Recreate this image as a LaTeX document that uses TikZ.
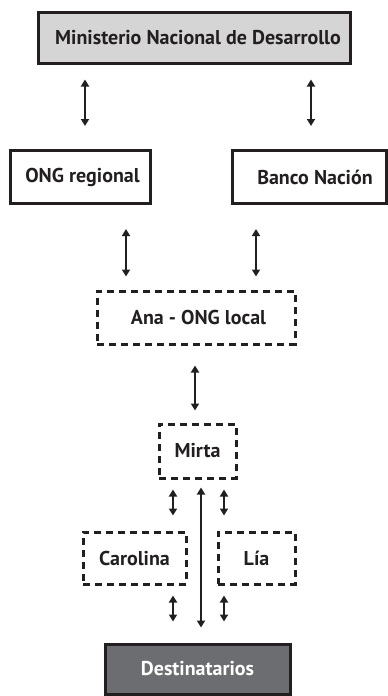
\documentclass[tikz,border=0pt]{standalone}
\usepackage{fontspec}
\setmainfont{PT Sans}
\usetikzlibrary{arrows.meta}
\definecolor{ink}{HTML}{231F20}
\definecolor{lightfill}{HTML}{D5D5D6}
\definecolor{darkfill}{HTML}{6C6D70}
\tikzset{
  box/.style={draw=ink, line width=3pt, inner sep=0pt, font=\fontsize{20}{24}\selectfont\bfseries, text=ink},
  dbox/.style={box, dash pattern=on 7pt off 5pt},
  arr/.style={draw=ink, line width=2pt, {Triangle[length=7pt,width=8pt]}-{Triangle[length=7pt,width=8pt]}},
}
\begin{document}
\begin{tikzpicture}[x=1pt,y=-1pt]
\useasboundingbox (0,0) rectangle (388,696);
\node[box, fill=lightfill, minimum width=312pt, minimum height=51pt] (min) at (194,37.5) {\hspace*{8pt}Ministerio Nacional de Desarrollo};
\node[box, minimum width=140pt, minimum height=53pt] (ong) at (80,177) {\hspace*{5pt}ONG regional};
\node[box, minimum width=154pt, minimum height=53pt] (banco) at (309,177) {\hspace*{12pt}Banco Nación};
\node[dbox, minimum width=198pt, minimum height=53pt] (ana) at (196,317.5) {\hspace*{5pt}Ana - ONG local};
\node[dbox, minimum width=77pt, minimum height=54pt] (mirta) at (197.5,451) {Mirta};
\node[dbox, minimum width=103pt, minimum height=52pt] (carolina) at (134.5,558) {Carolina};
\node[dbox, minimum width=77pt, minimum height=52pt] (lia) at (256.5,558) {Lía};
\node[box, fill=darkfill, text=white, minimum width=185pt, minimum height=50pt] (dest) at (197.5,669) {Destinatarios};
% connectors
\draw[arr, shorten <=15pt, shorten >=23pt] (min.south -| 85,0) -- (ong.north -| 85,0);
\draw[arr, shorten <=15pt, shorten >=23pt] (min.south -| 311,0) -- (banco.north -| 311,0);
\draw[arr, shorten <=24pt, shorten >=13pt] (ong.south -| 126,0) -- (ana.north -| 126,0);
\draw[arr, shorten <=24pt, shorten >=13pt] (banco.south -| 256,0) -- (ana.north -| 256,0);
\draw[arr, shorten <=20pt, shorten >=12pt] (ana.south -| 195,0) -- (mirta.north -| 195,0);
\draw[arr, shorten <=10pt, shorten >=15pt] (mirta.south -| 173,0) -- (carolina.north -| 173,0);
\draw[arr, shorten <=10pt, shorten >=15pt] (mirta.south -| 224,0) -- (lia.north -| 224,0);
\draw[arr, shorten <=8pt, shorten >=15pt] (mirta.south -| 201,0) -- (dest.north -| 201,0);
\draw[arr, shorten <=10pt, shorten >=21pt] (carolina.south -| 173,0) -- (dest.north -| 173,0);
\draw[arr, shorten <=10pt, shorten >=21pt] (lia.south -| 224,0) -- (dest.north -| 224,0);
\end{tikzpicture}
\end{document}
